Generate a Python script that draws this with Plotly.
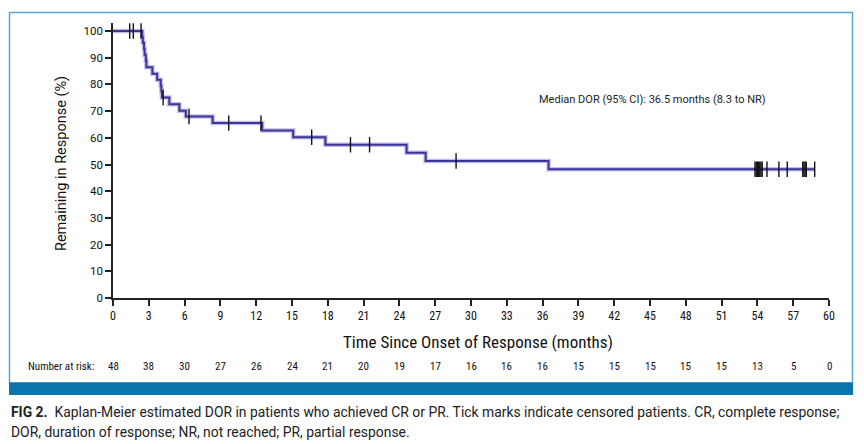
import plotly.graph_objects as go

# KM step curve (months, % remaining in response)
step_t = [0, 2.45, 2.5, 2.6, 2.65, 2.75, 2.8, 3.3, 3.7, 4.0, 4.05, 4.1,
          4.72, 5.56, 6.1, 8.35, 12.5, 15.1, 17.8, 24.6, 26.2, 36.5, 58.8]
step_s = [100, 97.8, 95.6, 93.3, 91.1, 88.9, 86.4, 84.0, 81.7, 79.5, 77.3, 75.1,
          72.6, 70.1, 68.0, 65.5, 62.7, 60.2, 57.4, 54.4, 51.3, 48.2, 48.2]

# censored patients
cens_t = [1.4, 1.7, 2.35, 4.2, 6.37, 9.7, 12.4, 16.65, 19.9, 21.5, 28.75,
          53.8, 53.9, 54.0, 54.1, 54.2, 54.3, 54.4, 54.8, 55.8, 56.5,
          57.8, 57.9, 58.0, 58.1, 58.8]
cens_s = [100, 100, 100, 75.1, 68.0, 65.5, 65.5, 60.2, 57.4, 57.4, 51.3,
          48.2, 48.2, 48.2, 48.2, 48.2, 48.2, 48.2, 48.2, 48.2, 48.2,
          48.2, 48.2, 48.2, 48.2, 48.2]

risk_t = list(range(0, 61, 3))
risk_n = [48, 38, 30, 27, 26, 24, 21, 20, 19, 17, 16, 16, 16, 15, 15, 15, 15, 15, 13, 5, 0]

# page has an 8px body margin, so the figure sits at (8, 8)
OFF = 8
W, H = 864 - OFF, 444 - OFF
narrow = "Liberation Sans Narrow, Arial Narrow, Roboto Condensed, sans-serif"
plain = "Roboto, Arial, sans-serif"

def px(x):
    return (x - OFF) / W

def py(y):
    return 1 - (y - OFF) / H

fig = go.Figure()

# halo under the line
fig.add_trace(go.Scatter(x=step_t, y=step_s, mode='lines', line_shape='hv',
                         line=dict(color='rgba(120,110,200,0.45)', width=4.5),
                         hoverinfo='skip', showlegend=False))
fig.add_trace(go.Scatter(x=step_t, y=step_s, mode='lines', line_shape='hv',
                         line=dict(color='#3b3597', width=2),
                         showlegend=False))
fig.add_trace(go.Scatter(x=cens_t, y=cens_s, mode='markers',
                         marker=dict(symbol='line-ns', size=11,
                                     line=dict(color='#111111', width=1.4)),
                         showlegend=False))

# outer box + blue bar
fig.add_shape(type='rect', xref='paper', yref='paper',
              x0=px(9.5), x1=px(852.5), y0=py(383), y1=py(12.5),
              line=dict(color='#58a6d8', width=1.5), fillcolor='rgba(0,0,0,0)', layer='below')
fig.add_shape(type='rect', xref='paper', yref='paper',
              x0=px(9), x1=px(853), y0=py(395), y1=py(382.5),
              line=dict(width=0), fillcolor='#0a75ad')

ann = []
ann.append(dict(text='Median DOR (95% CI): 36.5 months (8.3 to NR)', x=35.5, y=74.5,
                xref='x', yref='y', xanchor='left', yanchor='middle', showarrow=False,
                font=dict(family=plain, size=11, color='#222222')))
ann.append(dict(text='Time Since Onset of Response (months)', x=px((343 + 612) / 2), y=py(342),
                xref='paper', yref='paper', xanchor='center', yanchor='middle', showarrow=False,
                font=dict(family=narrow, size=17, color='#111111')))
ann.append(dict(text='Remaining in Response (%)', x=px(62), y=py(163), textangle=-90,
                xref='paper', yref='paper', xanchor='center', yanchor='middle', showarrow=False,
                font=dict(family=plain, size=14.5, color='#111111')))
ann.append(dict(text='Number at risk:', x=px(96), y=py(366), xanchor='right', yanchor='middle',
                xref='paper', yref='paper', showarrow=False,
                font=dict(family=narrow, size=11, color='#111111')))
for t, n in zip(risk_t, risk_n):
    ann.append(dict(text=str(n), x=t, y=py(366), xref='x', yref='paper', showarrow=False,
                    xanchor='center', yanchor='middle',
                    font=dict(family=narrow, size=11, color='#111111')))
ann.append(dict(text='<b>FIG 2.</b>  Kaplan-Meier estimated DOR in patients who achieved CR or PR. '
                     'Tick marks indicate censored patients. CR, complete response;',
                x=px(9), y=py(412), xref='paper', yref='paper', xanchor='left', yanchor='middle',
                showarrow=False, font=dict(family=plain, size=13.9, color='#222222')))
ann.append(dict(text='DOR, duration of response; NR, not reached; PR, partial response.',
                x=px(9), y=py(432), xref='paper', yref='paper', xanchor='left', yanchor='middle',
                showarrow=False, font=dict(family=plain, size=13.9, color='#222222')))

fig.update_layout(
    width=W, height=H,
    margin=dict(l=0, r=0, t=0, b=0, autoexpand=False),
    paper_bgcolor='white', plot_bgcolor='white',
    annotations=ann,
    xaxis=dict(domain=[px(113), px(829)], range=[0, 60], tickmode='array', tickvals=risk_t,
               automargin=False,
               showgrid=False, zeroline=False, showline=True, linecolor='#222222', linewidth=1.5,
               ticks='outside', ticklen=6, tickcolor='#222222', tickwidth=1.5,
               tickfont=dict(family=narrow, size=12, color='#111111')),
    yaxis=dict(domain=[py(298), py(23)], range=[0, 103], tickmode='array',
               tickvals=list(range(0, 101, 10)), automargin=False,
               showgrid=False, zeroline=False, showline=True, linecolor='#222222', linewidth=1.5,
               ticks='outside', ticklen=6, tickcolor='#222222', tickwidth=1.5,
               tickfont=dict(family=plain, size=11.5, color='#111111')),
)

fig.write_html("out.html")
